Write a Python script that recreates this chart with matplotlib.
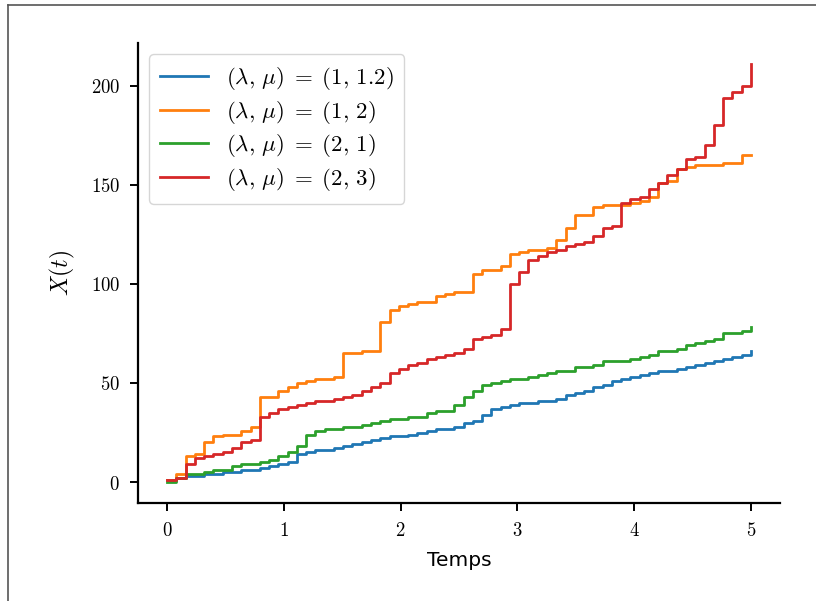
import numpy as np
import matplotlib
matplotlib.use("Agg")
import matplotlib.pyplot as plt
from matplotlib.lines import Line2D
from matplotlib.ticker import FuncFormatter

plt.rcParams['mathtext.fontset'] = 'cm'

# grille de temps (64 points entre 0 et 5)
temps = np.linspace(0, 5, 64)

# valeurs
x_bleu = [1, 2, 3, 3, 4, 4, 5, 5, 6, 6, 7, 8, 9, 10, 14, 15, 16, 16, 17, 18,
          19, 20, 21, 22, 23, 23, 24, 25, 26, 27, 27, 28, 30, 31, 34, 37, 38, 39, 40, 40,
          41, 41, 42, 44, 45, 46, 48, 49, 51, 52, 53, 54, 55, 56, 56, 57, 58, 59, 60, 61,
          62, 63, 64, 66]
x_orange = [1, 4, 13, 14, 20, 23, 24, 24, 26, 28, 43, 43, 46, 48, 50, 51, 52, 52, 53, 65,
            65, 66, 66, 81, 87, 89, 90, 91, 91, 94, 95, 96, 96, 105, 107, 107, 109, 115, 116, 117,
            117, 118, 122, 128, 135, 135, 139, 140, 140, 140, 141, 142, 144, 151, 152, 158, 159, 160, 160, 160,
            161, 161, 165, 165]
x_vert = [0, 2, 4, 4, 5, 6, 6, 8, 9, 9, 10, 11, 13, 15, 18, 24, 26, 27, 27, 28,
          28, 29, 30, 31, 32, 32, 33, 33, 35, 36, 36, 39, 43, 46, 49, 50, 51, 52, 52, 53,
          54, 55, 56, 56, 58, 58, 59, 61, 61, 61, 62, 63, 64, 66, 66, 67, 69, 70, 71, 72,
          75, 75, 76, 78]
x_rouge = [1, 2, 9, 12, 13, 14, 15, 17, 20, 21, 33, 35, 37, 38, 39, 40, 41, 41, 42, 43,
           44, 46, 48, 50, 55, 57, 59, 60, 62, 63, 64, 65, 67, 72, 73, 74, 77, 100, 106, 112,
           114, 116, 117, 119, 120, 121, 124, 128, 129, 141, 143, 144, 148, 151, 155, 158, 163, 164, 170, 180,
           194, 197, 200, 211]

series = [x_bleu, x_orange, x_vert, x_rouge]
labels = [r'$(\lambda,\, \mu)\;=\;(1,\, 1.2)$',
          r'$(\lambda,\, \mu)\;=\;(1,\, 2)$',
          r'$(\lambda,\, \mu)\;=\;(2,\, 1)$',
          r'$(\lambda,\, \mu)\;=\;(2,\, 3)$']


def main():
    fig = plt.figure(figsize=(8.16, 6.01), dpi=100)
    ax = fig.add_axes([0.1691, 0.1631, 0.7868, 0.7654])

    for s, lab in zip(series, labels):
        ax.step(temps, s, where='post', lw=2, label=lab)

    ax.spines['top'].set_visible(False)
    ax.spines['right'].set_visible(False)
    for sp in ['left', 'bottom']:
        ax.spines[sp].set_linewidth(1.6)

    fmt = FuncFormatter(lambda v, p: f'${v:g}$')
    ax.xaxis.set_major_formatter(fmt)
    ax.yaxis.set_major_formatter(fmt)
    ax.set_yticks([0, 50, 100, 150, 200])
    ax.tick_params(length=6, width=1.4, pad=7, labelsize=13.5)

    ax.set_xlabel('Temps', fontsize=14.5, labelpad=8)
    ax.set_ylabel('$X(t)$', fontsize=17, labelpad=10)

    ax.legend(loc='upper left', fontsize=16.5, handlelength=2.1,
              labelspacing=0.3, borderpad=0.45)

    # cadre de la capture
    fig.add_artist(Line2D([8/816, 1], [1 - 5/601, 1 - 5/601], color='#555555', lw=1.2))
    fig.add_artist(Line2D([8/816, 8/816], [0, 1 - 5/601], color='#555555', lw=1.2))

    fig.savefig('out.png', dpi=100)


if __name__ == "__main__":
    main()
